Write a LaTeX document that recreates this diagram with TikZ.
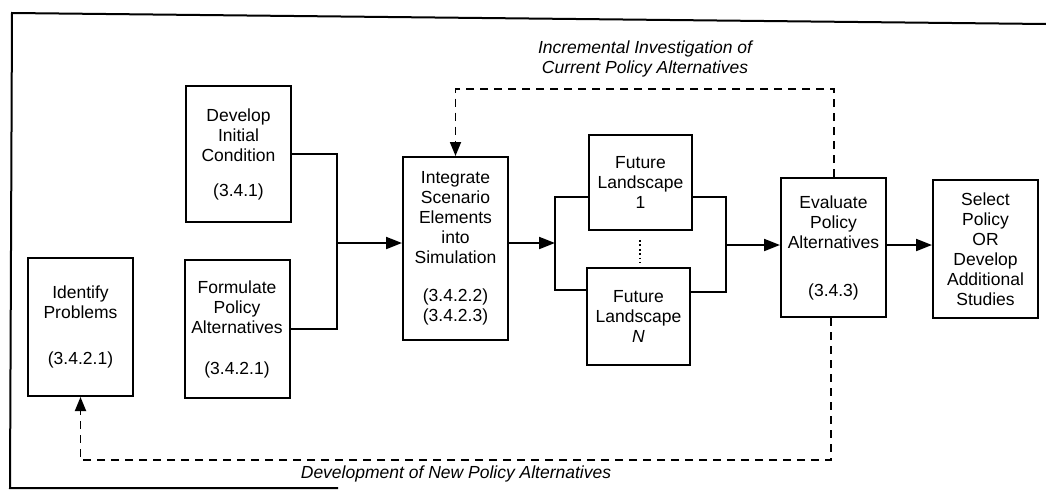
\documentclass[tikz,border=0pt]{standalone}
\usepackage{fontspec}
\setmainfont{Liberation Sans}
\usetikzlibrary{arrows.meta,calc}
\begin{document}
\begin{tikzpicture}[x=1pt,y=-1pt,
  stepbox/.style={draw,line width=2pt,minimum width=105pt,align=center,
    font=\fontsize{17.5}{20}\selectfont,inner sep=0pt},
  flow/.style={line width=2pt},
  arr/.style={flow,-{Triangle[length=16pt,width=12pt]}},
  fb/.style={line width=1.8pt,dash pattern=on 8pt off 6pt},
  fbarr/.style={fb,-{Triangle[length=14pt,width=11pt]}},
  lbl/.style={font=\fontsize{17.5}{20}\selectfont\itshape,align=center}]
\useasboundingbox (0,0) rectangle (1046,501);

% outer frame (open on the right)
\coordinate (f1) at (12,13);
\coordinate (f2) at (1046,24);
\coordinate (f3) at (10,488);
\coordinate (f4) at (338,488);
\draw[line width=2pt] (f2) -- (f1) -- (f3) -- (f4);

% process steps
\node[stepbox,minimum height=136pt] (dev) at (238.5,154)
  {Develop\\Initial\\Condition\\[15pt](3.4.1)};
\node[stepbox,minimum height=138pt] (idp) at (80.5,327)
  {Identify\\Problems\\[26pt](3.4.2.1)};
\node[stepbox,minimum height=138pt] (form) at (237,329)
  {Formulate\\Policy\\Alternatives\\[21pt](3.4.2.1)};
\node[stepbox,minimum height=183pt] (integ) at (455.5,248.5)
  {Integrate\\Scenario\\Elements\\into\\Simulation\\[18pt](3.4.2.2)\\(3.4.2.3)};
\node[stepbox,minimum width=103pt,minimum height=95pt] (fl1) at (640.5,182.5)
  {Future\\Landscape\\1};
\node[stepbox,minimum width=103pt,minimum height=97pt] (fln) at (638.5,316.5)
  {Future\\Landscape\\\textit{N}};
\node[stepbox,minimum height=139pt] (eval) at (833.5,247.5)
  {Evaluate\\Policy\\Alternatives\\[28pt](3.4.3)};
\node[stepbox,minimum height=138pt] (sel) at (985.5,249)
  {Select\\Policy\\OR\\Develop\\Additional\\Studies};

% merge into the simulation step
\coordinate (J) at (337,243);
\draw[flow] (dev.east) -| (J);
\draw[flow] (form.east) -| (J);
\draw[arr] (J) -- (J -| integ.west);

% fan out to the future landscapes
\coordinate (B) at (555,243);
\coordinate (Bt) at (555,197);
\coordinate (Bb) at (555,290);
\draw[arr] (integ.east |- B) -- (B);
\draw[flow] (Bt -| fl1.west) -- (Bt) -- (Bb) -- (Bb -| fln.west);

% gather back to evaluation
\coordinate (C) at (726,245);
\coordinate (Ct) at (726,197);
\coordinate (Cb) at (726,292);
\draw[flow] (Ct -| fl1.east) -- (Ct) -- (Cb) -- (Cb -| fln.east);
\draw[arr] (C) -- (C -| eval.west);
\draw[arr] (eval.east |- C) -- (C -| sel.west);

% vertical ellipsis between landscapes
\coordinate (d1) at (640,240);
\coordinate (d2) at (640,263);
\draw[line width=1.8pt,dash pattern=on 1.8pt off 2.6pt] (d1) -- (d2);

% feedback loops
\coordinate (T1) at (834,89);
\draw[fbarr] (eval.north -| T1) -- (T1) -| (integ.north);
\coordinate (L1) at (831,460);
\draw[fbarr] (eval.south -| L1) -- (L1) -| (idp.south);

\node[lbl] (inc) at (645,58.5)
  {Incremental Investigation of\\Current Policy Alternatives};
\node[lbl] (newalt) at (456,474) {Development of New Policy Alternatives};
\end{tikzpicture}
\end{document}
